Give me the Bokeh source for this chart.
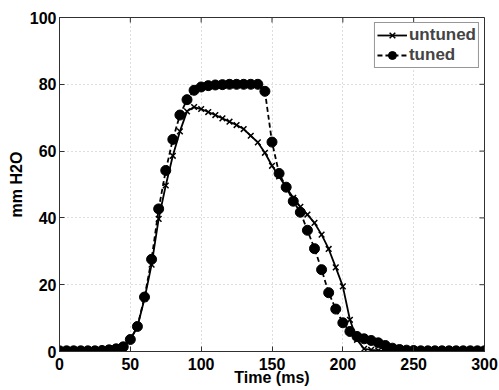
import math
from bokeh.plotting import figure
from bokeh.models import Range1d, FixedTicker
from bokeh.embed import file_html
from bokeh.resources import INLINE

time_ms = list(range(0, 305, 5))

untuned = [0.1, 0.1, 0.1, 0.1, 0.1, 0.1, 0.2, 0.4, 0.7, 1.3,
           3.5, 7.4, 15.8, 26.0, 39.7, 49.7, 58.6, 65.9, 71.9, 73.2,
           72.6, 71.7, 70.8, 69.8, 68.8, 67.8, 66.6, 64.6, 62.6, 59.5,
           55.6, 52.4, 49.2, 46.0, 43.3, 41.0, 38.5, 35.0, 30.7, 25.2,
           19.5, 9.5, 3.5, 0.8, 0.5, 0.3, 0.2, 0.2, 0.2, 0.2,
           0.2, 0.2, 0.2, 0.2, 0.2, 0.2, 0.2, 0.2, 0.2, 0.2, 0.2]

tuned = [0.2, 0.2, 0.2, 0.2, 0.2, 0.2, 0.3, 0.5, 0.8, 1.4,
         3.6, 7.5, 16.3, 27.6, 42.7, 54.2, 63.5, 70.8, 75.4, 78.2,
         79.2, 79.6, 79.8, 79.9, 80.0, 80.0, 80.0, 80.0, 80.0, 77.9,
         62.7, 53.3, 49.2, 45.0, 41.7, 36.3, 30.8, 24.5, 17.6, 12.7,
         8.6, 6.0, 4.5, 3.8, 3.3, 2.6, 1.8, 1.0, 0.6, 0.4,
         0.3, 0.2, 0.2, 0.2, 0.2, 0.2, 0.2, 0.2, 0.2, 0.2, 0.2]

x_ticks = [0, 50, 100, 150, 200, 250, 300]
y_ticks = [0, 20, 40, 60, 80, 100]

x_label = "Time (ms)"
y_label = "mm H2O"

FONT = "Liberation Sans"
AX = "#303030"

p = figure(width=499, height=390, output_backend="svg", toolbar_location=None,
           x_range=Range1d(0, 300), y_range=Range1d(0, 100),
           min_border_left=59, min_border_right=15, min_border_top=17, min_border_bottom=39)
p.background_fill_color = "white"
p.border_fill_color = "white"
p.outline_line_color = AX
p.outline_line_width = 1

p.xaxis.ticker = FixedTicker(ticks=x_ticks)
p.yaxis.ticker = FixedTicker(ticks=y_ticks)

for ax in (p.xaxis[0], p.yaxis[0]):
    ax.axis_line_color = AX
    ax.major_tick_line_color = AX
    ax.major_tick_in = 5
    ax.major_tick_out = 0
    ax.minor_tick_line_color = None
    ax.major_label_text_font = FONT
    ax.major_label_text_font_style = "bold"
    ax.major_label_text_font_size = "16px"
    ax.major_label_text_color = "black"
    ax.axis_label_text_font = FONT
    ax.axis_label_text_font_style = "bold"
    ax.axis_label_text_font_size = "16px"
    ax.axis_label_text_color = "black"

p.xaxis.axis_label = x_label
p.yaxis.axis_label = y_label
p.xaxis.major_label_standoff = 6
p.xaxis.axis_label_standoff = -4
p.yaxis.major_label_standoff = 3
p.yaxis.axis_label_standoff = 2

# inward ticks on the top and right edges of the box
p.ray(x=x_ticks, y=[100] * len(x_ticks), length=5, length_units="screen",
      angle=-math.pi / 2, line_color=AX, line_width=1)
p.ray(x=[300] * len(y_ticks), y=y_ticks, length=5, length_units="screen",
      angle=math.pi, line_color=AX, line_width=1)

for g in (p.xgrid[0], p.ygrid[0]):
    g.grid_line_color = "#bdbdbd"
    g.grid_line_dash = "1 3"
    g.grid_line_width = 1

p.line(time_ms, untuned, line_color="black", line_width=1.8, legend_label="untuned")
p.scatter(time_ms, untuned, marker="x", size=8, line_color="black", line_width=1.5,
          legend_label="untuned")
p.line(time_ms, tuned, line_color="black", line_width=1.8, line_dash="5 3", legend_label="tuned")
p.scatter(time_ms, tuned, marker="circle", size=10, fill_color="black", line_color="black",
          legend_label="tuned")

lg = p.legend[0]
lg.location = "top_right"
lg.margin = 5
lg.padding = 2
lg.spacing = 0
lg.border_line_color = AX
lg.border_line_width = 1
lg.background_fill_color = "white"
lg.background_fill_alpha = 1
lg.label_text_font = FONT
lg.label_text_font_style = "bold"
lg.label_text_font_size = "17px"
lg.label_standoff = 2
lg.glyph_width = 30
lg.glyph_height = 20
lg.label_height = 20

open("out.html", "w").write(file_html(p, INLINE))
